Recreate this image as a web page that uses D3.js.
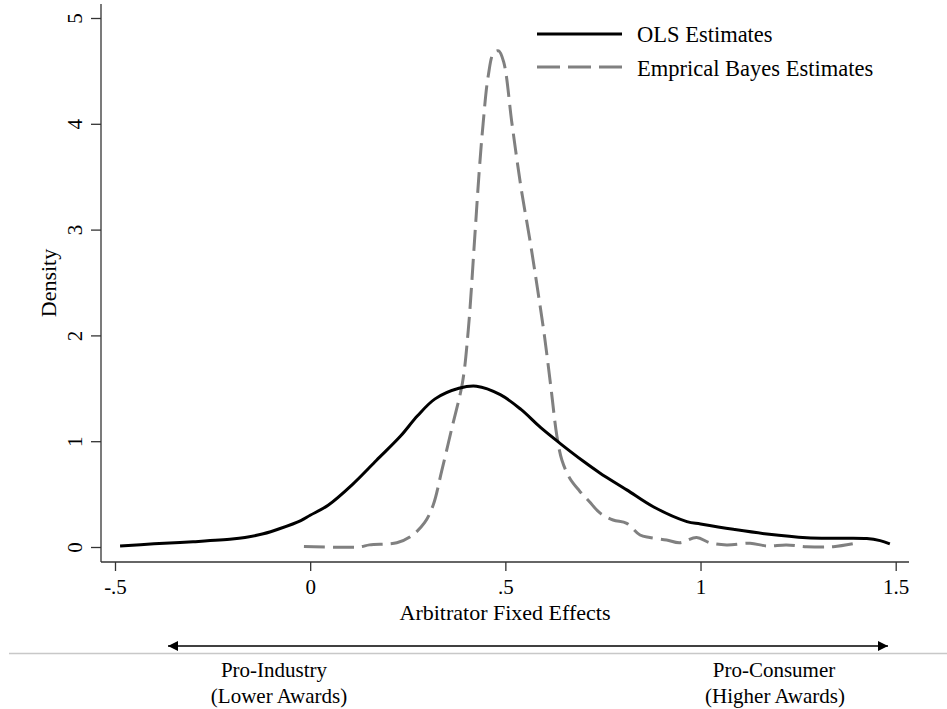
<!DOCTYPE html>
<html>
<head>
<meta charset="utf-8">
<script src="https://cdn.jsdelivr.net/npm/d3@7"></script>
<style>
  html, body { margin: 0; padding: 0; background: #fff; }
  svg { display: block; }
  text { font-family: "Liberation Serif", "Times New Roman", serif; fill: #000; }
</style>
</head>
<body>
<svg id="chart" width="947" height="709"></svg>
<script>
// Kernel density of arbitrator fixed effects: OLS vs empirical Bayes estimates
const olsX = [-0.487, -0.40, -0.30, -0.20, -0.167, -0.12, -0.077, -0.024, 0.0, 0.046, 0.108, 0.17, 0.231, 0.275, 0.32, 0.381, 0.426, 0.487, 0.54, 0.59, 0.64, 0.70, 0.742, 0.811, 0.879, 0.965, 1.0, 1.084, 1.17, 1.272, 1.35, 1.426, 1.46, 1.485];
const olsY = [0.01, 0.03, 0.05, 0.075, 0.09, 0.125, 0.175, 0.25, 0.30, 0.395, 0.59, 0.82, 1.046, 1.24, 1.40, 1.50, 1.52, 1.44, 1.30, 1.13, 0.98, 0.81, 0.70, 0.54, 0.38, 0.24, 0.217, 0.167, 0.123, 0.088, 0.083, 0.08, 0.06, 0.03];

const ebX = [-0.016, 0.125, 0.152, 0.222, 0.258, 0.293, 0.315, 0.337, 0.364, 0.39, 0.405, 0.422, 0.433, 0.443, 0.456, 0.47, 0.483, 0.496, 0.517, 0.54, 0.563, 0.582, 0.60, 0.617, 0.632, 0.645, 0.665, 0.69, 0.715, 0.743, 0.776, 0.811, 0.845, 0.87, 0.913, 0.947, 0.99, 1.024, 1.067, 1.127, 1.17, 1.22, 1.272, 1.34, 1.39];
const ebY = [0.005, 0.0, 0.02, 0.04, 0.10, 0.23, 0.395, 0.72, 1.14, 1.55, 2.05, 2.95, 3.55, 4.0, 4.45, 4.67, 4.69, 4.58, 4.0, 3.4, 2.9, 2.45, 2.0, 1.5, 1.05, 0.82, 0.65, 0.53, 0.43, 0.32, 0.255, 0.224, 0.113, 0.09, 0.066, 0.04, 0.09, 0.04, 0.02, 0.035, 0.01, 0.02, 0.003, 0.003, 0.03];

const xTicks = [-0.5, 0, 0.5, 1, 1.5];
const xTickLabels = ["-.5", "0", ".5", "1", "1.5"];
const yTicks = [0, 1, 2, 3, 4, 5];

const seriesNames = ["OLS Estimates", "Emprical Bayes Estimates"];
const sideLabels = [["Pro-Industry", "(Lower Awards)"], ["Pro-Consumer", "(Higher Awards)"]];

const svg = d3.select("#chart");

const x = d3.scaleLinear().domain([-0.5, 1.5]).range([115, 895.7]);
const y = d3.scaleLinear().domain([0, 5]).range([547, 18]);

const axisColor = "#333";

// axis lines
svg.append("line").attr("x1", 101).attr("x2", 101).attr("y1", 4).attr("y2", 562)
  .attr("stroke", axisColor).attr("stroke-width", 1.3);
svg.append("line").attr("x1", 101).attr("x2", 909).attr("y1", 562).attr("y2", 562)
  .attr("stroke", axisColor).attr("stroke-width", 1.3);

// y axis
const yAxis = d3.axisLeft(y).tickValues(yTicks).tickSize(10).tickFormat(d3.format("d"));
const gy = svg.append("g").attr("transform", "translate(101,0)").call(yAxis);
gy.select(".domain").remove();
gy.selectAll(".tick line").attr("stroke", axisColor).attr("stroke-width", 1.3);
gy.selectAll(".tick text")
  .attr("x", 0).attr("y", 0).attr("dy", null)
  .attr("text-anchor", "middle")
  .attr("transform", "translate(-19,0) rotate(-90)")
  .style("font-family", "Liberation Serif, serif")
  .style("font-size", "21px");

// x axis
const xAxis = d3.axisBottom(x).tickValues(xTicks).tickSize(9)
  .tickFormat((d, i) => xTickLabels[i]);
const gx = svg.append("g").attr("transform", "translate(0,562)").call(xAxis);
gx.select(".domain").remove();
gx.selectAll(".tick line").attr("stroke", axisColor).attr("stroke-width", 1.3);
gx.selectAll(".tick text")
  .attr("y", 32).attr("dy", null)
  .style("font-family", "Liberation Serif, serif")
  .style("font-size", "21px");

// axis titles
svg.append("text").attr("x", 505).attr("y", 620).attr("text-anchor", "middle")
  .style("font-size", "22px").text("Arbitrator Fixed Effects");
svg.append("text").attr("transform", "translate(56,283) rotate(-90)")
  .attr("text-anchor", "middle").style("font-size", "22px").text("Density");

// density curves
const line = d3.line().curve(d3.curveCatmullRom.alpha(0.5))
  .x(d => x(d[0])).y(d => y(d[1]));

const olsData = olsX.map((v, i) => [v, olsY[i]]);
const ebData = ebX.map((v, i) => [v, ebY[i]]);

svg.append("path").datum(ebData).attr("d", line)
  .attr("fill", "none").attr("stroke", "#808080").attr("stroke-width", 3)
  .attr("stroke-dasharray", "21,8");
svg.append("path").datum(olsData).attr("d", line)
  .attr("fill", "none").attr("stroke", "#000").attr("stroke-width", 3);

// legend
const legend = svg.append("g");
legend.append("line").attr("x1", 537).attr("x2", 622).attr("y1", 34).attr("y2", 34)
  .attr("stroke", "#000").attr("stroke-width", 3);
legend.append("text").attr("x", 637).attr("y", 42).style("font-size", "22.5px").text(seriesNames[0]);
legend.append("line").attr("x1", 537).attr("x2", 622).attr("y1", 67).attr("y2", 67)
  .attr("stroke", "#808080").attr("stroke-width", 3).attr("stroke-dasharray", "23,8");
legend.append("text").attr("x", 637).attr("y", 76).style("font-size", "22.5px").text(seriesNames[1]);

// direction arrow below the chart
const defs = svg.append("defs");
defs.append("marker").attr("id", "arrowEnd").attr("viewBox", "0 0 10 10")
  .attr("refX", 10).attr("refY", 5).attr("markerWidth", 10).attr("markerHeight", 10)
  .attr("markerUnits", "userSpaceOnUse").attr("orient", "auto")
  .append("path").attr("d", "M0,0 L10,5 L0,10 Z").attr("fill", "#000");
defs.append("marker").attr("id", "arrowStart").attr("viewBox", "0 0 10 10")
  .attr("refX", 0).attr("refY", 5).attr("markerWidth", 10).attr("markerHeight", 10)
  .attr("markerUnits", "userSpaceOnUse").attr("orient", "auto")
  .append("path").attr("d", "M10,0 L0,5 L10,10 Z").attr("fill", "#000");

svg.append("line").attr("x1", 168).attr("x2", 888).attr("y1", 646).attr("y2", 646)
  .attr("stroke", "#000").attr("stroke-width", 1.5)
  .attr("marker-start", "url(#arrowStart)").attr("marker-end", "url(#arrowEnd)");
svg.append("line").attr("x1", 9).attr("x2", 947).attr("y1", 653.5).attr("y2", 653.5)
  .attr("stroke", "#c8c8c8").attr("stroke-width", 1.5);

const sidePos = [[274, 279], [774, 775]];
sideLabels.forEach((lines, i) => {
  svg.append("text").attr("x", sidePos[i][0]).attr("y", 677).attr("text-anchor", "middle")
    .style("font-size", "21px").text(lines[0]);
  svg.append("text").attr("x", sidePos[i][1]).attr("y", 703).attr("text-anchor", "middle")
    .style("font-size", "21px").text(lines[1]);
});
</script>
</body>
</html>
